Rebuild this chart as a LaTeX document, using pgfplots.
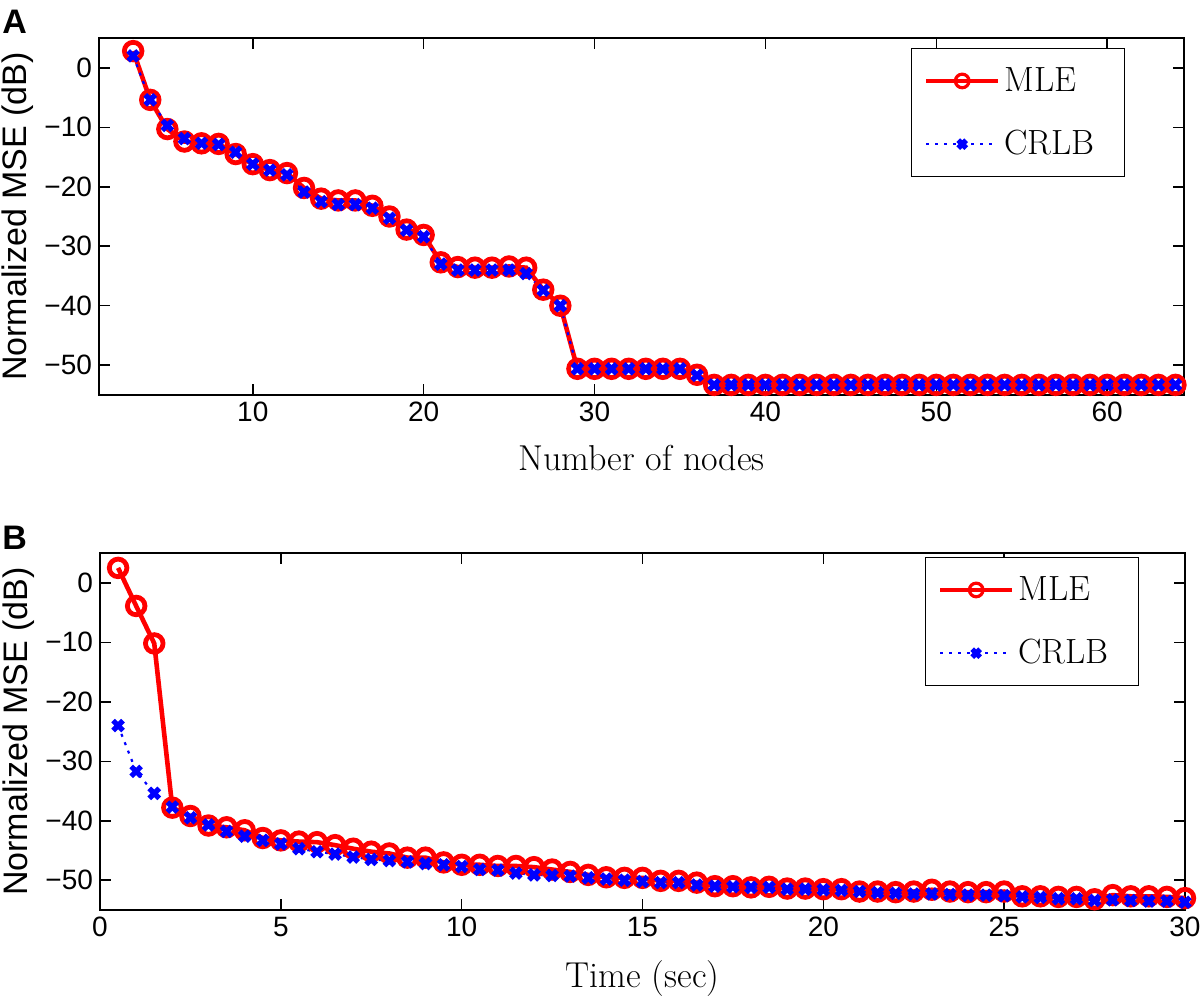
\documentclass[border=0pt]{standalone}
\usepackage{pgfplots}
\pgfplotsset{compat=1.18}
\usepackage{pgfplotstable}
\usepackage{fontspec}
\newfontfamily\hv{Liberation Sans}

\pgfplotstableread{
x mle crlb
3 2.8 2.0
4 -5.4 -5.4
5 -10.3 -9.7
6 -12.4 -11.9
7 -12.7 -12.7
8 -12.8 -12.9
9 -14.5 -14.2
10 -16.2 -16.2
11 -17.2 -17.2
12 -17.7 -18.0
13 -20.2 -20.9
14 -22.0 -22.5
15 -22.3 -23.0
16 -22.3 -23.0
17 -23.2 -23.6
18 -25.0 -25.3
19 -27.2 -27.3
20 -28.1 -28.4
21 -32.7 -33.0
22 -33.5 -34.0
23 -33.6 -34.0
24 -33.6 -34.0
25 -33.4 -34.0
26 -33.6 -34.6
27 -37.3 -37.4
28 -40.0 -40.0
29 -50.6 -50.6
30 -50.6 -50.6
31 -50.6 -50.6
32 -50.6 -50.6
33 -50.6 -50.6
34 -50.6 -50.6
35 -50.6 -50.6
36 -51.6 -51.7
37 -53.3 -53.3
38 -53.3 -53.3
39 -53.3 -53.3
40 -53.3 -53.3
41 -53.3 -53.3
42 -53.3 -53.3
43 -53.3 -53.3
44 -53.3 -53.3
45 -53.3 -53.3
46 -53.3 -53.3
47 -53.3 -53.3
48 -53.3 -53.3
49 -53.3 -53.3
50 -53.3 -53.3
51 -53.3 -53.3
52 -53.3 -53.3
53 -53.3 -53.3
54 -53.3 -53.3
55 -53.3 -53.3
56 -53.3 -53.3
57 -53.3 -53.3
58 -53.3 -53.3
59 -53.3 -53.3
60 -53.3 -53.3
61 -53.3 -53.3
62 -53.3 -53.3
63 -53.3 -53.3
64 -53.3 -53.3
}\tabA

\pgfplotstableread{
x mle crlb
0.5 2.5 -24.0
1.0 -3.9 -31.7
1.5 -10.2 -35.4
2.0 -37.8 -37.7
2.5 -39.2 -39.5
3.0 -40.8 -40.7
3.5 -41.1 -41.8
4.0 -41.6 -42.6
4.5 -42.9 -43.3
5.0 -43.3 -43.9
5.5 -43.5 -44.7
6.0 -43.6 -45.2
6.5 -44.1 -45.6
7.0 -44.7 -46.1
7.5 -45.2 -46.5
8.0 -45.5 -46.7
8.5 -46.2 -46.9
9.0 -46.2 -47.2
9.5 -47.0 -47.4
10.0 -47.4 -47.7
10.5 -47.4 -48.2
11.0 -47.6 -48.3
11.5 -47.6 -48.8
12.0 -47.8 -49.1
12.5 -48.2 -49.2
13.0 -48.6 -49.3
13.5 -49.1 -49.6
14.0 -49.5 -49.8
14.5 -49.6 -50.0
15.0 -49.6 -50.2
15.5 -50.1 -50.4
16.0 -50.1 -50.4
16.5 -50.4 -50.8
17.0 -51.0 -51.0
17.5 -51.0 -51.1
18.0 -51.2 -51.2
18.5 -51.1 -51.2
19.0 -51.4 -51.5
19.5 -51.4 -51.5
20.0 -51.5 -51.6
20.5 -51.5 -51.7
21.0 -51.9 -51.9
21.5 -51.9 -52.1
22.0 -52.0 -52.2
22.5 -51.9 -52.3
23.0 -51.6 -52.3
23.5 -51.9 -52.4
24.0 -52.0 -52.5
24.5 -52.0 -52.5
25.0 -51.9 -52.6
25.5 -52.7 -52.8
26.0 -52.7 -52.9
26.5 -52.8 -53.1
27.0 -52.8 -53.1
27.5 -53.2 -53.4
28.0 -52.5 -53.3
28.5 -52.7 -53.4
29.0 -52.7 -53.5
29.5 -52.8 -53.5
30.0 -53.0 -53.7
}\tabB

\pgfplotsset{
  mystyle/.style={
    scale only axis, width=542.5pt, height=178.5pt,
    ymin=-55, ymax=5,
    ytick={-50,-40,-30,-20,-10,0},
    yticklabels={−50,−40,−30,−20,−10,0},
    axis line style={line width=0.75pt},
    every tick/.style={black, line width=0.75pt},
    major tick length=5.5pt,
    tick align=inside,
    ticklabel style={font=\hv\fontsize{14}{16}\selectfont},
    /pgf/number format/assume math mode=true,
    ylabel={Normalized MSE (dB)},
    ylabel style={font=\hv\fontsize{17}{20}\selectfont, at={([xshift=-40.5pt]rel axis cs:0,0.5)}, anchor=center},
    xlabel style={font=\fontsize{18}{21}\selectfont, yshift=-5pt},
    legend cell align=left,
    legend image code/.code={\draw[mark repeat=2,mark phase=2,##1,mark size=2.8pt] plot coordinates {(0pt,0pt) (18pt,0pt) (36pt,0pt)};},
    clip=false,
  },
  legA/.style={legend style={anchor=north east, draw=black, line width=0.5pt,
      font=\fontsize{17.5}{20}\selectfont, row sep=14pt, inner xsep=6pt, inner ysep=7.5pt}},
  mlestyle/.style={red, line width=2.3pt, mark=o, mark size=4.4pt, mark options={solid, line width=2.4pt},
    legend image code/.code={\draw[red, line width=2.3pt] (0pt,0pt) -- (36pt,0pt);
      \draw[red, line width=1.6pt] (18pt,0pt) circle[radius=3.4pt];}},
  crlbstyle/.style={blue, line width=1.1pt, dash pattern=on 1.5pt off 3pt, mark=x, mark size=3.5pt, mark options={solid, line width=2.6pt}},
}

\begin{document}
\begin{tikzpicture}
\useasboundingbox (0pt,0pt) rectangle (600pt,-498.5pt);
\begin{axis}[mystyle, legA,
  at={(49.5pt,-19pt)}, anchor=north west,
  xmin=1, xmax=64.5,
  xtick={10,20,30,40,50,60},
  xlabel={Number of nodes},
  legend style={at={(1,1)}, xshift=-29.5pt, yshift=-5pt},
]
\addplot[mlestyle] table[x=x, y=mle] {\tabA};
\addlegendentry{\makebox[52pt][l]{MLE}}
\addplot[crlbstyle] table[x=x, y=crlb] {\tabA};
\addlegendentry{\makebox[52pt][l]{CRLB}}
\end{axis}

\begin{axis}[mystyle, legA,
  at={(50pt,-276.5pt)}, anchor=north west,
  xmin=0, xmax=30,
  xtick={0,5,10,15,20,25,30},
  xlabel={Time (sec)},
  legend style={at={(1,1)}, xshift=-23pt, yshift=-2pt},
]
\addplot[mlestyle] table[x=x, y=mle] {\tabB};
\addlegendentry{\makebox[52pt][l]{MLE}}
\addplot[crlbstyle] table[x=x, y=crlb] {\tabB};
\addlegendentry{\makebox[52pt][l]{CRLB}}
\end{axis}

\node[anchor=base west, inner sep=0pt, font=\hv\bfseries\fontsize{17}{20}\selectfont] at (1pt,-16.5pt) {A};
\node[anchor=base west, inner sep=0pt, font=\hv\bfseries\fontsize{17}{20}\selectfont] at (1pt,-274.5pt) {B};
\end{tikzpicture}
\end{document}
